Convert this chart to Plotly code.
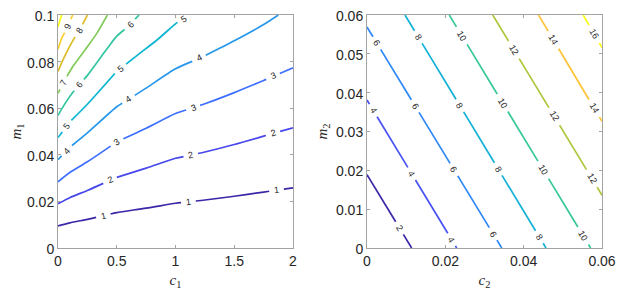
import numpy as np
import plotly.graph_objects as go

# ---------------- data: left panel (c1, m1) ----------------
left_levels = [1, 2, 3, 4, 5, 6, 7, 8, 9, 10]
L1_c = [0, 0.1, 0.25, 0.5, 0.75, 1.0, 1.25, 1.5, 1.75, 2.0]
L1_m = [0.0095, 0.0108, 0.0123, 0.0152, 0.0171, 0.0192, 0.0206, 0.0222, 0.0240, 0.0258]
L2_c = [0, 0.1, 0.25, 0.5, 0.75, 1.0, 1.25, 1.5, 1.75, 2.0]
L2_m = [0.0190, 0.0216, 0.0247, 0.0303, 0.0343, 0.0385, 0.0412, 0.0444, 0.0480, 0.0516]
L3_c = [0, 0.1, 0.25, 0.5, 0.75, 1.0, 1.25, 1.5, 1.75, 2.0]
L3_m = [0.0284, 0.0324, 0.0370, 0.0455, 0.0514, 0.0577, 0.0619, 0.0667, 0.0719, 0.0773]
L4_c = [0, 0.1, 0.25, 0.5, 0.75, 1.0, 1.25, 1.5, 1.75, 1.875]
L4_m = [0.0379, 0.0432, 0.0494, 0.0606, 0.0686, 0.0769, 0.0825, 0.0889, 0.0959, 0.1]
L5_c = [0, 0.1, 0.25, 0.5, 0.69, 0.85, 1.0, 1.12]
L5_m = [0.0474, 0.0541, 0.0617, 0.0758, 0.0833, 0.0896, 0.0962, 0.1]
L6_c = [0, 0.05, 0.125, 0.25, 0.42, 0.5, 0.6, 0.69]
L6_m = [0.0569, 0.0612, 0.0667, 0.0741, 0.0857, 0.0909, 0.0952, 0.1]
L7_c = [0, 0.05, 0.125, 0.25, 0.33, 0.42]
L7_m = [0.0664, 0.0714, 0.0778, 0.0864, 0.0921, 0.1]
L8_c = [0, 0.05, 0.125, 0.19, 0.25]
L8_m = [0.0758, 0.0816, 0.0889, 0.0941, 0.1]
L9_c = [0, 0.031, 0.08, 0.125]
L9_m = [0.0853, 0.0900, 0.0947, 0.1]
L10_c = [0, 0.031]
L10_m = [0.0948, 0.1]
left_label_c = [[0.386, 1.11, 1.86], [0.443, 1.13, 1.83], [0.5, 1.15, 1.83],
                [0.074, 0.6, 1.2], [0.074, 0.53, 1.07], [0.179, 0.613],
                [0.045], [0.179], [0.085], []]

# ---------------- data: right panel (c2, m2) ----------------
right_levels = [2, 4, 6, 8, 10, 12, 14, 16]
R2_c = [0, 0.0114];      R2_m = [0.0189, 0]
R4_c = [0, 0.0229];      R4_m = [0.0381, 0]
R6_c = [0, 0.0344];      R6_m = [0.0569, 0]
R8_c = [0.0097, 0.0457]; R8_m = [0.06, 0]
R10_c = [0.021, 0.0571]; R10_m = [0.06, 0]
R12_c = [0.0321, 0.06];  R12_m = [0.06, 0.0136]
R14_c = [0.0438, 0.06];  R14_m = [0.06, 0.0326]
R16_c = [0.0552, 0.06];  R16_m = [0.06, 0.0516]
right_label_c = [[0.0083], [0.0016, 0.0114, 0.0216], [0.0025, 0.0123, 0.0222, 0.0322],
                 [0.0131, 0.0237, 0.0335, 0.044], [0.0242, 0.0346, 0.045, 0.0552],
                 [0.0375, 0.0478, 0.0574], [0.0476, 0.058], [0.058]]

left_lines = [(L1_c, L1_m), (L2_c, L2_m), (L3_c, L3_m), (L4_c, L4_m), (L5_c, L5_m),
              (L6_c, L6_m), (L7_c, L7_m), (L8_c, L8_m), (L9_c, L9_m), (L10_c, L10_m)]
right_lines = [(R2_c, R2_m), (R4_c, R4_m), (R6_c, R6_m), (R8_c, R8_m), (R10_c, R10_m),
               (R12_c, R12_m), (R14_c, R14_m), (R16_c, R16_m)]

# ---------------- style ----------------
PARULA = [
    (0.2422, 0.1504, 0.6603), (0.2504, 0.1650, 0.7076), (0.2578, 0.1818, 0.7511), (0.2647, 0.1978, 0.7952),
    (0.2706, 0.2147, 0.8364), (0.2751, 0.2342, 0.8710), (0.2783, 0.2559, 0.8991), (0.2803, 0.2782, 0.9221),
    (0.2813, 0.3006, 0.9414), (0.2810, 0.3228, 0.9579), (0.2795, 0.3447, 0.9717), (0.2760, 0.3667, 0.9829),
    (0.2699, 0.3892, 0.9906), (0.2602, 0.4123, 0.9952), (0.2440, 0.4358, 0.9988), (0.2206, 0.4603, 0.9973),
    (0.1963, 0.4847, 0.9892), (0.1834, 0.5074, 0.9798), (0.1786, 0.5289, 0.9682), (0.1764, 0.5499, 0.9520),
    (0.1687, 0.5703, 0.9359), (0.1540, 0.5902, 0.9218), (0.1460, 0.6091, 0.9079), (0.1380, 0.6276, 0.8973),
    (0.1248, 0.6459, 0.8883), (0.1113, 0.6635, 0.8763), (0.0952, 0.6798, 0.8598), (0.0689, 0.6948, 0.8394),
    (0.0297, 0.7082, 0.8163), (0.0036, 0.7203, 0.7917), (0.0067, 0.7312, 0.7660), (0.0433, 0.7411, 0.7394),
    (0.0964, 0.7500, 0.7120), (0.1408, 0.7584, 0.6842), (0.1717, 0.7670, 0.6554), (0.1938, 0.7758, 0.6251),
    (0.2161, 0.7843, 0.5923), (0.2470, 0.7918, 0.5567), (0.2906, 0.7973, 0.5188), (0.3406, 0.8008, 0.4789),
    (0.3909, 0.8029, 0.4354), (0.4456, 0.8024, 0.3909), (0.5044, 0.7993, 0.3480), (0.5616, 0.7942, 0.3045),
    (0.6174, 0.7876, 0.2612), (0.6720, 0.7793, 0.2227), (0.7242, 0.7698, 0.1910), (0.7738, 0.7598, 0.1646),
    (0.8203, 0.7498, 0.1535), (0.8634, 0.7406, 0.1596), (0.9035, 0.7330, 0.1774), (0.9393, 0.7288, 0.2100),
    (0.9728, 0.7298, 0.2394), (0.9956, 0.7434, 0.2371), (0.9970, 0.7659, 0.2199), (0.9952, 0.7893, 0.2028),
    (0.9892, 0.8136, 0.1885), (0.9786, 0.8386, 0.1766), (0.9676, 0.8639, 0.1643), (0.9610, 0.8890, 0.1537),
    (0.9597, 0.9135, 0.1423), (0.9628, 0.9373, 0.1265), (0.9691, 0.9606, 0.1064), (0.9769, 0.9839, 0.0805)]


def parula(t):
    p = np.array(PARULA)
    pos = t * (len(p) - 1)
    r = [np.interp(pos, np.arange(len(p)), p[:, k]) for k in range(3)]
    return "rgb(%d,%d,%d)" % tuple(int(round(v * 255)) for v in r)


# page body has an 8px margin, so the figure is shifted by OFF
OFF = 8
W, H = 629 - OFF, 294 - OFF
PLOT_W, PLOT_H = 235, 234
LEFT_X = (58 - OFF, 293 - OFF)
RIGHT_X = (367 - OFF, 602 - OFF)
Y_PIX = (15 - OFF, 248 - OFF)
TXT = "#262626"
AX = "#a3a3a3"


def gapped(xs, ys, sx, sy, label_cs, glen):
    xs = np.asarray(xs, float)
    ys = np.asarray(ys, float)
    px, py = xs * sx, -ys * sy
    s = np.concatenate([[0.0], np.cumsum(np.hypot(np.diff(px), np.diff(py)))])
    S = s[-1]
    gaps, labels = [], []
    for lc, g in zip(label_cs, glen):
        sl = float(np.interp(lc, xs, s))
        gaps.append((sl - g, sl + g))
        i = int(np.clip(np.searchsorted(s, sl) - 1, 0, len(s) - 2))
        ang = np.degrees(np.arctan2(py[i + 1] - py[i], px[i + 1] - px[i]))
        if ang > 90:
            ang -= 180
        if ang < -90:
            ang += 180
        labels.append((float(np.interp(sl, s, xs)), float(np.interp(sl, s, ys)), ang))
    gaps.sort()
    pieces, a = [], 0.0
    for g0, g1 in gaps:
        if g0 > a:
            pieces.append((a, min(g0, S)))
        a = max(a, g1)
    if a < S:
        pieces.append((a, S))
    ox, oy = [], []
    for a, b in pieces:
        sv = [a] + [v for v in s if a < v < b] + [b]
        ox += list(np.interp(sv, s, xs)) + [None]
        oy += list(np.interp(sv, s, ys)) + [None]
    return ox, oy, labels


fig = go.Figure()
annotations = []


def add_panel(lines, levels, label_cs, xr, yr, xref, yref, shape):
    sx = PLOT_W / (xr[1] - xr[0])
    sy = PLOT_H / (yr[1] - yr[0])
    n = len(levels)
    for k, ((xs, ys), lev, lcs) in enumerate(zip(lines, levels, label_cs)):
        col = parula(k / (n - 1))
        txt = str(lev)
        g = 4.5 + 2.9 * len(txt)
        ox, oy, labs = gapped(xs, ys, sx, sy, lcs, [g] * len(lcs))
        fig.add_trace(go.Scatter(x=ox, y=oy, mode="lines", xaxis=xref, yaxis=yref,
                                 line=dict(color=col, width=1.7, shape=shape, smoothing=0.8),
                                 connectgaps=False, showlegend=False, hoverinfo="skip"))
        for lx, ly, ang in labs:
            annotations.append(dict(x=lx, y=ly, xref=xref, yref=yref, text=txt, showarrow=False,
                                    textangle=ang, xanchor="center", yanchor="middle",
                                    font=dict(family="Liberation Sans, Arial", size=9, color=TXT)))


add_panel(left_lines, left_levels, left_label_c, (0, 2), (0, 0.1), "x", "y", "spline")
add_panel(right_lines, right_levels, right_label_c, (0, 0.06), (0, 0.06), "x2", "y2", "linear")

axis_style = dict(showline=True, linecolor=AX, linewidth=1, mirror="ticks", ticks="inside",
                  ticklen=3, tickcolor=AX, showgrid=False, zeroline=False, automargin=False,
                  ticklabeloverflow="allow",
                  tickfont=dict(family="Liberation Sans, Arial", size=14, color=TXT))
y_extra = dict(ticklabelshift=1)
title_font = dict(family="Liberation Serif, Times New Roman", size=15, color=TXT)
ydom = [(H - Y_PIX[1]) / H, (H - Y_PIX[0]) / H]

fig.update_layout(
    width=W, height=H, margin=dict(l=0, r=0, t=0, b=0),
    paper_bgcolor="white", plot_bgcolor="white",
    xaxis=dict(domain=[LEFT_X[0] / W, LEFT_X[1] / W], range=[0, 2], tickvals=[0, 0.5, 1, 1.5, 2],
               ticktext=["0", "0.5", "1", "1.5", "2"], anchor="y",
               title=dict(text="<i>c</i><sub>1</sub>", font=title_font, standoff=6), **axis_style),
    yaxis=dict(domain=ydom, range=[0, 0.1], tickvals=[0, 0.02, 0.04, 0.06, 0.08, 0.1],
               ticktext=["0", "0.02", "0.04", "0.06", "0.08", "0.1"], anchor="x",
               title=dict(text="<i>m</i><sub>1</sub>", font=title_font, standoff=4),
               **axis_style, **y_extra),
    xaxis2=dict(domain=[RIGHT_X[0] / W, RIGHT_X[1] / W], range=[0, 0.06], tickvals=[0, 0.02, 0.04, 0.06],
                ticktext=["0", "0.02", "0.04", "0.06"], anchor="y2",
                title=dict(text="<i>c</i><sub>2</sub>", font=title_font, standoff=6), **axis_style),
    yaxis2=dict(domain=ydom, range=[0, 0.06], tickvals=[0, 0.01, 0.02, 0.03, 0.04, 0.05, 0.06],
                ticktext=["0", "0.01", "0.02", "0.03", "0.04", "0.05", "0.06"], anchor="x2",
                title=dict(text="<i>m</i><sub>2</sub>", font=title_font, standoff=4),
                **axis_style, **y_extra),
    annotations=annotations,
)

fig.write_html("out.html")
